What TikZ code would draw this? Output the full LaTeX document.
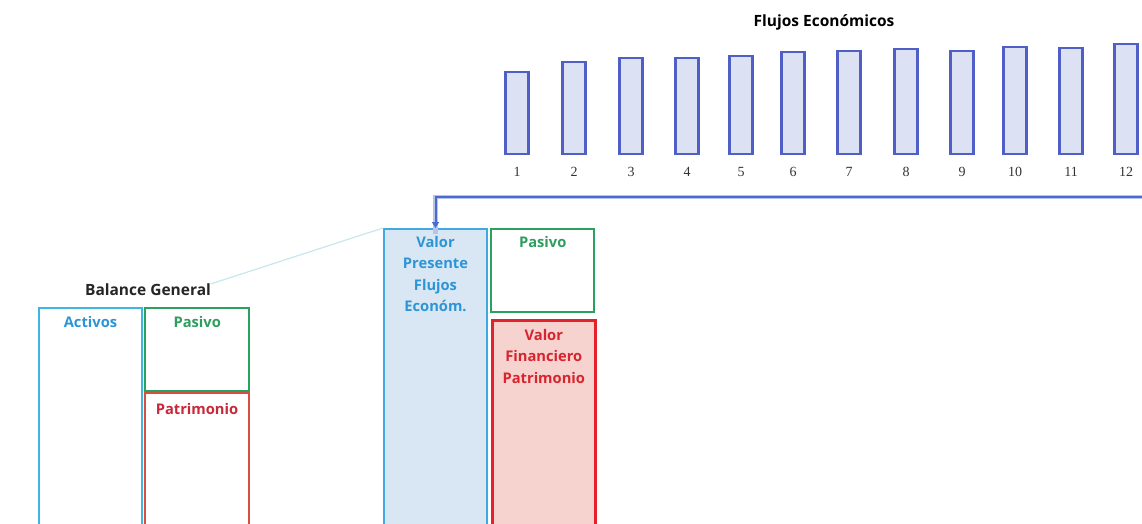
\documentclass[tikz,border=0pt]{standalone}
\usepackage{fontspec}
\setmainfont{Open Sans}
\newfontfamily\numfont{Liberation Serif}
\usetikzlibrary{arrows.meta}
\definecolor{barline}{HTML}{4F5FC6}
\definecolor{barfill}{HTML}{DCE2F4}
\definecolor{flowline}{HTML}{4A6AD0}
\definecolor{vpline}{HTML}{41A9E1}
\definecolor{vpfill}{HTML}{D9E7F4}
\definecolor{vptext}{HTML}{2D95D6}
\definecolor{grn}{HTML}{2BA160}
\definecolor{grntext}{HTML}{2E9E5E}
\definecolor{redline}{HTML}{E3222B}
\definecolor{redfill}{HTML}{F7D3D0}
\definecolor{redtext}{HTML}{D7242E}
\definecolor{actline}{HTML}{3FB6E2}
\definecolor{patline}{HTML}{D7503F}
\definecolor{pattext}{HTML}{C8283A}
\definecolor{linkline}{HTML}{C8E6EE}
\tikzset{
  bar/.style={draw=barline, fill=barfill, line width=2.2pt, minimum width=23pt, inner sep=0pt, anchor=south},
  numlbl/.style={font=\numfont\fontsize{14}{16}\selectfont, text=black!80, inner sep=0pt},
  boxlbl/.style={font=\bfseries\fontsize{14.7}{21.5}\selectfont, align=center, inner sep=0pt, anchor=north},
  panel/.style={line width=2pt, inner sep=0pt, anchor=north west},
  title/.style={font=\bfseries\fontsize{15.5}{17}\selectfont, inner sep=0pt}
}
\begin{document}
\begin{tikzpicture}[x=1pt,y=-1pt]
\useasboundingbox (0,0) rectangle (1142,524);
\clip (0,0) rectangle (1142,524);
% title
\node[title] (ftitle) at (824,22) {Flujos Económicos};
% bars
\foreach \i/\cx/\t in {1/517/73,2/574/63,3/631/59,4/687/59,5/741/57,6/793/53,7/849/52,8/906/50,9/962/52,10/1015/48,11/1071/49,12/1126/45}{
  \pgfmathsetmacro{\h}{155-\t}
  \node[bar, minimum height=\h pt] (b\i) at (\cx,155) {};
  \node[numlbl] (n\i) at (\cx,172) {\i};
}
% right balance
\node[panel, draw=vpline, fill=vpfill, minimum width=103pt, minimum height=310pt] (vp) at (383,228) {};
\node[boxlbl, text=vptext] (vpt) at ([yshift=-8pt]vp.north) {Valor\\Presente\\Flujos\\Económ.};
\node[panel, draw=grn, fill=white, line width=2.4pt, minimum width=103pt, minimum height=83pt] (pas2) at (490,228) {};
\node[boxlbl, text=grntext] (pas2t) at ([yshift=-8pt]pas2.north) {Pasivo};
\node[panel, draw=redline, fill=redfill, line width=2.6pt, minimum width=103pt, minimum height=220pt] (vf) at (491,319) {};
\node[boxlbl, text=redtext] (vft) at ([yshift=-10pt]vf.north) {Valor\\Financiero\\Patrimonio};
% left balance
\node[title, text=black!85] (bg) at (148,290) {Balance General};
\node[panel, draw=actline, fill=white, minimum width=103pt, minimum height=230pt] (act) at (38,307) {};
\node[boxlbl, text=vptext] (actt) at ([yshift=-9pt]act.north) {Activos};
\node[panel, draw=grn, fill=white, line width=2.4pt, minimum width=104pt, minimum height=83pt] (pas1) at (144,307) {};
\node[boxlbl, text=grntext] (pas1t) at ([yshift=-9pt]pas1.north) {Pasivo};
\node[panel, draw=patline, fill=white, minimum width=104pt, minimum height=150pt] (pat) at (144,392) {};
\node[boxlbl, text=pattext] (patt) at ([yshift=-11pt]pat.north) {Patrimonio};
% connectors
\coordinate (fstart) at (1145,197);
\draw[flowline!40, line width=4.5pt] (fstart) -| ([yshift=-6pt]vp.north);
\draw[flowline, line width=2pt, -{Triangle[length=6pt,width=7pt]}] (fstart) -| (vp.north);
\draw[linkline, line width=1.2pt] (bg.north east) -- (vp.north west);
\end{tikzpicture}
\end{document}
